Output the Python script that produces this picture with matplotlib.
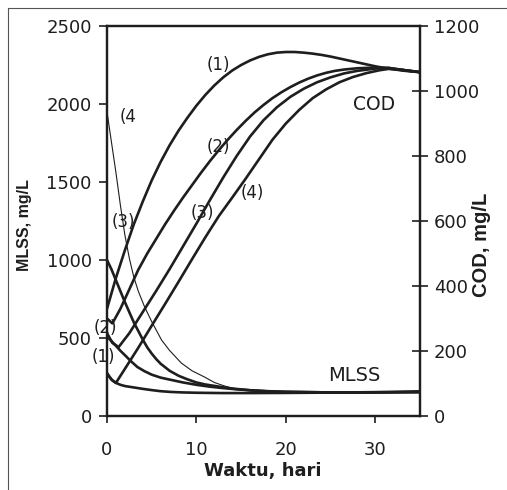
import matplotlib
matplotlib.use("Agg")
import matplotlib.pyplot as plt
from matplotlib.lines import Line2D

# ---- data ----
# Rising curves (COD, right axis, mg/L)
cod1_t = [0, 1, 2, 3, 4, 5, 6, 7, 8, 9, 10, 11, 12, 13, 14, 15, 16, 17, 18, 19, 20,
          21, 22, 23, 24, 25, 26, 27, 28, 29, 30, 31, 32, 33, 34, 35]
cod1_v = [330, 425, 510, 590, 660, 725, 782, 833, 878, 918, 955, 988, 1017, 1042, 1063,
          1080, 1094, 1105, 1113, 1118, 1120, 1120, 1118, 1115, 1111, 1106, 1100, 1094,
          1088, 1082, 1076, 1071, 1067, 1063, 1060, 1058]

cod2_t = [0, 0.6, 1.5, 2.5, 3.5, 4.5, 5.5, 6.5, 7.5, 8.5, 9.5, 10.5, 11.5, 12.5, 13.5,
          14.5, 15.5, 16.5, 17.5, 18.5, 19.5, 20.5, 21.5, 22.5, 23.5, 24.5, 25.5, 26.5,
          28, 30, 31.5, 33, 35]
cod2_v = [300, 285, 330, 390, 450, 500, 545, 590, 632, 672, 710, 748, 784, 818, 850,
          880, 908, 934, 957, 978, 996, 1012, 1026, 1038, 1048, 1056, 1062, 1066,
          1070, 1072, 1071, 1065, 1058]

cod3_t = [0, 0.6, 1.3, 2.5, 4, 5.5, 7, 8.5, 10, 11.5, 13, 14.5, 16, 17.5, 19, 20.5,
          22, 23.5, 25, 26.5, 28, 30, 31.5, 33, 35]
cod3_v = [255, 225, 212, 255, 320, 385, 452, 522, 592, 664, 734, 800, 860, 910, 950,
          982, 1007, 1027, 1042, 1054, 1062, 1069, 1071, 1065, 1058]

cod4_t = [0, 0.5, 1, 2, 3.5, 5, 6.5, 8, 9.5, 11, 12.5, 14, 15.5, 17, 18.5, 20, 21.5,
          23, 24.5, 26, 27.5, 29, 30.5, 31.5, 33, 35]
cod4_v = [130, 112, 102, 145, 210, 278, 345, 413, 482, 550, 615, 672, 730, 790, 850,
          900, 942, 978, 1005, 1027, 1043, 1055, 1064, 1068, 1065, 1058]

# Decaying curves (MLSS, left axis, mg/L)
mlss4_t = [0, 0.5, 1, 1.5, 2, 2.5, 3, 3.5, 4.2, 5, 6.1, 7, 8.3, 9.5, 10.9, 12, 13,
           14.2, 15.5, 17, 20, 25, 30, 35]
mlss4_v = [1950, 1755, 1560, 1350, 1160, 1010, 890, 800, 700, 605, 487, 420, 340, 290,
           250, 215, 195, 175, 165, 158, 152, 150, 151, 153]

mlss3_t = [0, 0.5, 1, 1.5, 2, 2.5, 3, 3.5, 4, 4.5, 5, 5.5, 6, 7, 8, 9, 10, 11, 12.8,
           14, 16, 18, 20, 25, 30, 35]
mlss3_v = [1000, 940, 870, 800, 730, 665, 600, 545, 490, 440, 400, 365, 335, 290, 258,
           235, 215, 202, 186, 176, 165, 158, 155, 151, 151, 153]

mlss2_t = [0, 0.5, 1, 1.5, 2, 2.7, 3.4, 4.2, 5, 6, 7.2, 8.5, 10, 11.5, 12.8, 14.5, 16,
           18, 20, 25, 30, 35]
mlss2_v = [510, 480, 450, 418, 390, 350, 314, 287, 265, 246, 231, 215, 200, 188, 180,
           171, 165, 159, 155, 151, 151, 153]

mlss1_t = [0, 0.3, 0.6, 1, 1.5, 2, 3, 4, 5, 6, 7.2, 8.5, 10, 12.8, 16, 20, 25, 30, 35]
mlss1_v = [276, 250, 228, 212, 200, 192, 183, 174, 166, 159, 154, 151, 149, 147, 147,
           148, 150, 153, 158]

xticks = [0, 10, 20, 30]
left_ticks = [0, 500, 1000, 1500, 2000, 2500]
right_ticks = [0, 200, 400, 600, 800, 1000, 1200]

# ---- figure ----
plt.rcParams['font.family'] = ['DejaVu Sans']
W, H = 507, 490
fig = plt.figure(figsize=(W / 100, H / 100), dpi=100)
ax = fig.add_axes([107 / W, 1 - 416 / H, (420 - 107) / W, (416 - 26) / H])
ax2 = ax.twinx()

ink = '#1e1e1e'
thick = 1.9

for t, v in [(mlss1_t, mlss1_v), (mlss2_t, mlss2_v), (mlss3_t, mlss3_v)]:
    ax.plot(t, v, color=ink, lw=thick, solid_capstyle='round', solid_joinstyle='round')
ax.plot(mlss4_t, mlss4_v, color=ink, lw=0.8, solid_joinstyle='round')

for t, v in [(cod1_t, cod1_v), (cod2_t, cod2_v), (cod3_t, cod3_v), (cod4_t, cod4_v)]:
    ax2.plot(t, v, color=ink, lw=thick, solid_capstyle='round', solid_joinstyle='round')

ax.set_xlim(0, 35)
ax.set_ylim(0, 2500)
ax2.set_ylim(0, 1200)
ax.set_xticks(xticks)
ax.set_yticks(left_ticks)
ax2.set_yticks(right_ticks)

fs = 13
ax.tick_params(axis='y', direction='out', length=6, width=1.2, pad=5, labelsize=fs, colors=ink)
ax.tick_params(axis='x', direction='out', length=5, width=1.2, pad=13, labelsize=fs, colors=ink)
ax2.tick_params(axis='y', direction='inout', length=12, width=1.2, pad=4, labelsize=fs, colors=ink)

for a in (ax, ax2):
    for s in a.spines.values():
        s.set_linewidth(1.6)
        s.set_color(ink)

ax.set_ylabel('MLSS, mg/L', fontsize=11.5, fontweight='bold', color=ink,
              family=['Liberation Sans', 'DejaVu Sans'])
ax.yaxis.set_label_coords(-0.240, 0.490)
ax2.set_ylabel('COD, mg/L', fontsize=14.5, fontweight='bold', color=ink,
               family=['Liberation Sans', 'DejaVu Sans'])
ax2.yaxis.set_label_coords(1.166, 0.438)
ax.set_xlabel('Waktu, hari', fontsize=13, fontweight='bold', color=ink)
ax.xaxis.set_label_coords(0.498, -0.118)

# curve annotations (in MLSS axis data coords)
tk = dict(fontsize=12, color=ink, ha='center', va='center')
ax.text(12.4, 2250, '(1)', **tk)
ax.text(12.5, 1724, '(2)', **tk)
ax.text(10.7, 1301, '(3)', **tk)
ax.text(16.3, 1429, '(4)', **tk)
ax.text(2.3, 1917, '(4', **tk)
ax.text(1.8, 1244, '(3)', **tk)
ax.text(-0.2, 564, '(2)', clip_on=False, **tk)
ax.text(-0.4, 378, '(1)', clip_on=False, **tk)
ax.text(29.9, 1994, 'COD', fontsize=13.5, color=ink, ha='center', va='center')
ax.text(27.6, 260, 'MLSS', fontsize=14, color=ink, ha='center', va='center')

# page border lines of the scan
fig.add_artist(Line2D([8 / W, 8 / W], [0, 1 - 8 / H], color='#555555', lw=0.8))
fig.add_artist(Line2D([8 / W, 1], [1 - 8 / H, 1 - 8 / H], color='#555555', lw=0.8))

fig.savefig('out.png', dpi=100)
